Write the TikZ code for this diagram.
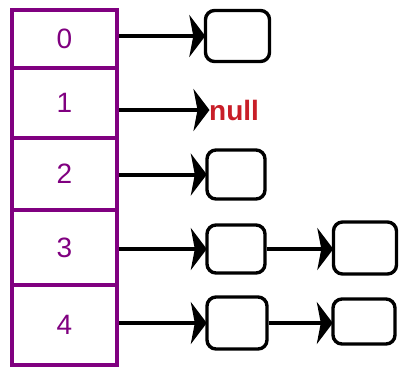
\documentclass[tikz,border=0pt]{standalone}
\usepackage{fontspec}
\setmainfont{Liberation Sans}
\usetikzlibrary{arrows.meta}
\definecolor{violetcase}{RGB}{128,0,128}
\definecolor{rougenull}{RGB}{200,30,40}
\tikzset{
    case/.style={draw=violetcase, line width=4.5pt, minimum width=105pt, text=violetcase, font=\fontsize{28}{28}\selectfont, inner sep=0pt},
    maillon/.style={draw, line width=3.4pt, rounded corners=9pt, minimum width=60pt, minimum height=49pt},
    lien/.style={line width=4pt, shorten >=-1.5pt, -{Stealth[length=16pt, width=42pt, inset=4pt]}}
}
\begin{document}
\begin{tikzpicture}[x=1pt, y=-1pt]
        \useasboundingbox (0, 0) rectangle (401, 368);
        % Tableau (gauche)
        \node [case, minimum height=58pt] (c0) at (64.5, 39) {0};
        \node [case, minimum height=70pt] (c1) at (64.5, 103) {1};
        \node [case, minimum height=72pt] (c2) at (64.5, 174) {2};
        \node [case, minimum height=75pt] (c3) at (64.5, 247.5) {3};
        \node [case, minimum height=80pt] (c4) at (64.5, 325) {4};

        % Maillons (droite)
        \node [maillon, minimum width=64pt, minimum height=51pt] (m0) at (237.5, 36) {};
        \node [font=\bfseries\fontsize{28}{28}\selectfont, text=rougenull, anchor=west, inner sep=1pt] (nul) at (208, 110) {null};
        \node [maillon, minimum width=58pt] (m2) at (236, 174.5) {};
        \node [maillon, minimum width=58pt, minimum height=48pt] (m3a) at (236, 249) {};
        \node [maillon, minimum width=63pt, minimum height=52pt] (m3b) at (365, 248) {};
        \node [maillon, minimum height=52pt] (m4a) at (237, 323) {};
        \node [maillon, minimum width=62pt, minimum height=45pt] (m4b) at (364, 321.5) {};

        % Liens
        \draw [lien] (m0.west -| c0.east) -- (m0.west);
        \draw [lien] (nul.west -| c1.east) -- (nul.west);
        \draw [lien] (m2.west -| c2.east) -- (m2.west);
        \draw [lien] (m3a.west -| c3.east) -- (m3a.west);
        \draw [lien] (m4a.west -| c4.east) -- (m4a.west);
        \draw [lien] (m3a.east) -- (m3a.east -| m3b.west);
        \draw [lien] (m4a.east) -- (m4a.east -| m4b.west);
    \end{tikzpicture}
\end{document}
